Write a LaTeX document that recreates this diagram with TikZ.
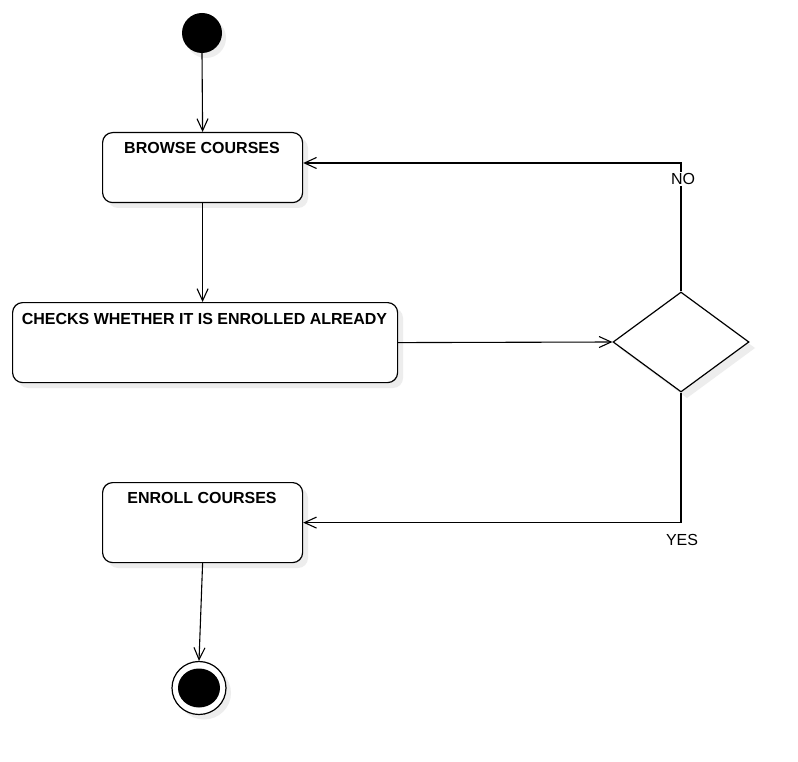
\documentclass[tikz,border=0pt]{standalone}
\usepackage{fontspec}
\setmainfont{Liberation Sans}
\usetikzlibrary{arrows.meta,shapes.geometric}
\tikzset{
  actbox/.style={draw, line width=1.2pt, rounded corners=10pt, fill=white, inner sep=0pt, anchor=north west},
  shadowbox/.style={fill=black!7, rounded corners=10pt},
  boxtext/.style={font=\bfseries\fontsize{16}{19}\selectfont, inner sep=0pt},
  guard/.style={font=\fontsize{16}{19}\selectfont, inner sep=1pt},
  arr/.style={line width=1.1pt, -{Straight Barb[length=12pt,width=11pt,line width=1.1pt]}},
  conn/.style={line width=1.1pt}
}
\begin{document}
\begin{tikzpicture}[x=1pt,y=-1pt]
\useasboundingbox[fill=white] (0,0) rectangle (798,762);
% shadows
\fill[shadowbox] (108,138) rectangle (308,208);
\fill[shadowbox] (18,308) rectangle (403,388);
\fill[shadowbox] (108,488) rectangle (308,568);
\fill[black!7] (687,299) -- (755,348) -- (687,398) -- (619,348) -- cycle;
\fill[black!7] (206,38) circle (20);
\fill[black!7] (204,693) ellipse (27 and 26.5);
% start
\node[circle, fill=black, minimum size=40pt, inner sep=0pt] (start) at (202,33) {};
% boxes
\node[actbox, minimum width=200pt, minimum height=70pt] (browse) at (102,132) {};
\node[boxtext] (browsetxt) at (202,148) {BROWSE COURSES};
\node[actbox, minimum width=385pt, minimum height=80pt] (check) at (12,302) {};
\node[boxtext] (checktxt) at (204.5,319) {CHECKS WHETHER IT IS ENROLLED ALREADY};
\node[actbox, minimum width=200pt, minimum height=80pt] (enroll) at (102,482) {};
\node[boxtext] (enrolltxt) at (202,498) {ENROLL COURSES};
% decision
\node[diamond, draw, line width=1.2pt, fill=white, inner sep=0pt, minimum width=136pt, minimum height=100pt, aspect=1.36] (dec) at (681,342) {};
% end
\node[ellipse, draw, line width=1.2pt, fill=white, minimum width=54pt, minimum height=53pt, inner sep=0pt] (endo) at (199,688) {};
\node[ellipse, fill=black, minimum width=42pt, minimum height=39pt, inner sep=0pt] (endi) at (199,688) {};
% connectors
\draw[arr] (start.south) -- (browse.north);
\draw[arr] (browse.south) -- (browse.south |- check.north);
\draw[arr] (check.east) -- (dec.west);
\coordinate (noturn) at (681,163);
\draw[arr] (dec.north) -- (noturn) -- (noturn -| browse.east);
\node[guard, fill=white] (nolbl) at (683,179) {NO};
\draw[arr] (dec.south) |- (enroll.east);
\node[guard] (yeslbl) at (682,540) {YES};
\draw[arr] (enroll.south) -- (endo.north);
\end{tikzpicture}
\end{document}
